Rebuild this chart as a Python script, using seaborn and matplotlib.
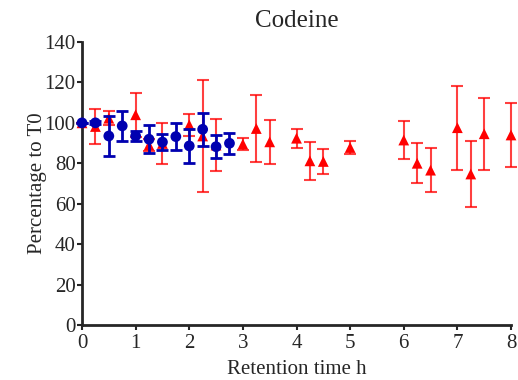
import matplotlib
matplotlib.use("Agg")
import matplotlib.pyplot as plt
import seaborn as sns
import pandas as pd

# Red triangles series
red_t = [0, 0.25, 0.5, 1.0, 1.25, 1.5, 2.0, 2.25, 2.5, 3.0, 3.25, 3.5, 4.0, 4.25, 4.5, 5.0, 6.0, 6.25, 6.5, 7.0, 7.25, 7.5, 8.0]
red_v = [100, 98.2, 102.3, 104, 89, 89.8, 99, 93.5, 89, 89.5, 97.2, 90.6, 92.4, 81.2, 80.9, 87.8, 91.5, 80, 76.6, 97.6, 74.7, 94.6, 94]
red_e = [0, 8.5, 3.5, 11, 3, 10, 5.6, 27.5, 13, 3, 16.6, 10.8, 4.7, 9.3, 6, 3.2, 9.2, 9.9, 11, 20.7, 16.2, 17.8, 15.6]

# Blue circles series
blue_t = [0, 0.25, 0.5, 0.75, 1.0, 1.25, 1.5, 1.75, 2.0, 2.25, 2.5, 2.75]
blue_v = [100, 100, 93.5, 98.5, 93.5, 91.9, 90.5, 93.2, 88.6, 96.8, 88.2, 89.9]
blue_e = [0, 0.8, 10, 7.5, 2.7, 7, 3.8, 6.7, 8.5, 8.2, 5.7, 5.3]

x_ticks = [0, 1, 2, 3, 4, 5, 6, 7, 8]
y_ticks = [0, 20, 40, 60, 80, 100, 120, 140]

sns.set_style("ticks")
plt.rcParams['font.family'] = ['Liberation Serif', 'DejaVu Serif']

fig = plt.figure(figsize=(5.18, 3.80), dpi=100)
ax = fig.add_axes([82/518, 1 - 325/380, (511-82)/518, (325-42)/380])

red_df = pd.DataFrame({"t": red_t, "v": red_v})
blue_df = pd.DataFrame({"t": blue_t, "v": blue_v})

ax.errorbar(red_t, red_v, yerr=red_e, fmt="none", ecolor=(1, 0, 0, 0.75),
            elinewidth=1.5, capsize=4, capthick=1.5, zorder=2, clip_on=False)
sns.scatterplot(data=red_df, x="t", y="v", marker="^", color="#FF0000", s=60,
                edgecolor="none", ax=ax, zorder=3, clip_on=False)
ax.errorbar(blue_t, blue_v, yerr=blue_e, fmt="none", ecolor="#0000B0",
            elinewidth=2, capsize=4, capthick=2, zorder=4, clip_on=False)
sns.scatterplot(data=blue_df, x="t", y="v", marker="o", color="#0000B0", s=60,
                edgecolor="none", ax=ax, zorder=5, clip_on=False)

ax.set_xlim(0, 8)
ax.set_ylim(0, 140)
ax.set_xticks(x_ticks)
ax.set_yticks(y_ticks)
ax.tick_params(labelsize=15, width=1.5, length=3.5, direction="out")
ax.tick_params(axis="x", pad=3)
ax.tick_params(axis="y", pad=1)
for s in ["left", "bottom"]:
    ax.spines[s].set_linewidth(2)
sns.despine(ax=ax)
ax.set_xlabel("Retention time h", fontsize=15, labelpad=5)
ax.set_ylabel("Percentage to T0", fontsize=15, labelpad=-2)
ax.set_title("Codeine", fontsize=18, pad=11)

fig.savefig("out.png", dpi=100)
